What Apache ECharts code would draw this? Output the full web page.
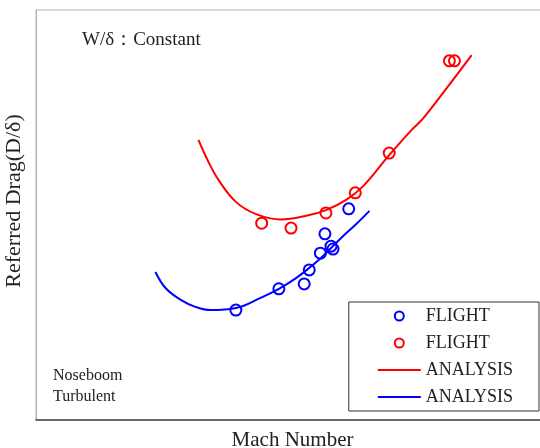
<!DOCTYPE html>
<html>
<head>
<meta charset="utf-8">
<script src="https://cdn.jsdelivr.net/npm/echarts@6/dist/echarts.min.js"></script>
<style>html,body{margin:0;padding:0;background:#fff}#c{width:540px;height:448px}</style>
</head>
<body>
<div id="c"></div>
<script>
// Arbitrary (unlabelled) axis units, 0..100 on both axes
var blueFlightX = [39.5, 48.0, 53.0, 54.0, 56.2, 57.1, 58.3, 58.7, 61.8];
var blueFlightY = [26.8, 32.0, 33.2, 36.6, 40.7, 45.4, 42.4, 41.7, 51.5];
var redFlightX  = [44.6, 50.4, 57.3, 63.1, 69.8, 81.7, 82.7];
var redFlightY  = [48.0, 46.8, 50.5, 55.4, 65.1, 87.6, 87.6];
var redAnalysisX  = [32.1, 34.1, 36.1, 39.5, 43.5, 48.4, 53.4, 57.3, 61.3, 64.7, 69.8, 74.2, 76.6, 81.2, 86.1];
var redAnalysisY  = [68.3, 62.9, 58.5, 53.2, 50.2, 48.9, 49.8, 51.2, 53.7, 57.1, 64.6, 70.7, 73.7, 81.0, 89.0];
var blueAnalysisX = [23.6, 25.6, 28.6, 31.5, 34.5, 39.5, 44.4, 48.0, 51.4, 54.0, 56.9, 60.3, 63.3, 65.9];
var blueAnalysisY = [36.1, 32.2, 29.3, 27.6, 26.8, 27.3, 29.8, 32.0, 34.6, 37.1, 40.2, 44.4, 47.8, 51.0];
var legendNames = ['FLIGHT_b', 'FLIGHT_r', 'ANALYSIS_r', 'ANALYSIS_b'];

function zip(xs, ys) { return xs.map(function (x, i) { return [x, ys[i]]; }); }
var serif = '"Liberation Serif", "Times New Roman", serif';
var chart = echarts.init(document.getElementById('c'));
chart.setOption({
  animation: false,
  backgroundColor: '#fff',
  grid: { left: 36, top: 10, right: -2, bottom: 28, containLabel: false, outerBoundsMode: 'none', show: true, borderColor: '#b4b4b4', borderWidth: 1, backgroundColor: 'transparent' },
  xAxis: {
    type: 'value', min: 0, max: 100,
    axisLine: { show: true, lineStyle: { color: '#444', width: 1.5 } },
    axisTick: { show: false }, axisLabel: { show: false }, splitLine: { show: false },
    name: 'Mach Number', nameLocation: 'middle', nameGap: 10,
    nameTextStyle: { fontFamily: serif, fontSize: 21, color: '#222', padding: [0, 0, 0, 7] }
  },
  yAxis: {
    type: 'value', min: 0, max: 100,
    axisLine: { show: true, lineStyle: { color: '#b4b4b4', width: 1 } },
    axisTick: { show: false }, axisLabel: { show: false }, splitLine: { show: false },
    name: 'Referred Drag(D/δ)', nameLocation: 'middle', nameGap: 11,
    nameTextStyle: { fontFamily: serif, fontSize: 22, color: '#222', padding: [0, 0, 0, 28] }
  },
  legend: {
    orient: 'vertical', right: 1, top: 302,
    backgroundColor: '#fff', borderColor: '#333', borderWidth: 1,
    padding: [5, 26, 5, 28], itemGap: 9, itemWidth: 43, itemHeight: 9,
    textStyle: { fontFamily: serif, fontSize: 18, color: '#222', lineHeight: 18 },
    formatter: function (n) { return n.split('_')[0]; },
    data: [
      { name: legendNames[0], icon: 'circle', itemStyle: { color: 'rgba(0,0,0,0)', borderColor: '#0000ff', borderWidth: 2 } },
      { name: legendNames[1], icon: 'circle', itemStyle: { color: 'rgba(0,0,0,0)', borderColor: '#ff0000', borderWidth: 2 } },
      { name: legendNames[2], itemStyle: { opacity: 0 } },
      { name: legendNames[3], itemStyle: { opacity: 0 } }
    ]
  },
  graphic: [
    { type: 'text', left: 82, top: 31, style: { text: 'W/δ：Constant', font: '19px ' + serif, fill: '#222' } },
    { type: 'text', left: 53, top: 365, style: { text: 'Noseboom\nTurbulent', font: '16px ' + serif, fill: '#222', lineHeight: 21 } }
  ],
  series: [
    { name: legendNames[2], type: 'line', smooth: 0.4, symbol: 'none', data: zip(redAnalysisX, redAnalysisY), lineStyle: { color: '#ff0000', width: 2 }, itemStyle: { color: '#ff0000' }, z: 2 },
    { name: legendNames[3], type: 'line', smooth: 0.4, symbol: 'none', data: zip(blueAnalysisX, blueAnalysisY), lineStyle: { color: '#0000ff', width: 2 }, itemStyle: { color: '#0000ff' }, z: 2 },
    { name: legendNames[0], type: 'scatter', symbol: 'circle', symbolSize: 11, data: zip(blueFlightX, blueFlightY), itemStyle: { color: 'rgba(0,0,0,0)', borderColor: '#0000ff', borderWidth: 2, opacity: 1 }, z: 3 },
    { name: legendNames[1], type: 'scatter', symbol: 'circle', symbolSize: 11, data: zip(redFlightX, redFlightY), itemStyle: { color: 'rgba(0,0,0,0)', borderColor: '#ff0000', borderWidth: 2, opacity: 1 }, z: 3 }
  ]
});
</script>
</body>
</html>
